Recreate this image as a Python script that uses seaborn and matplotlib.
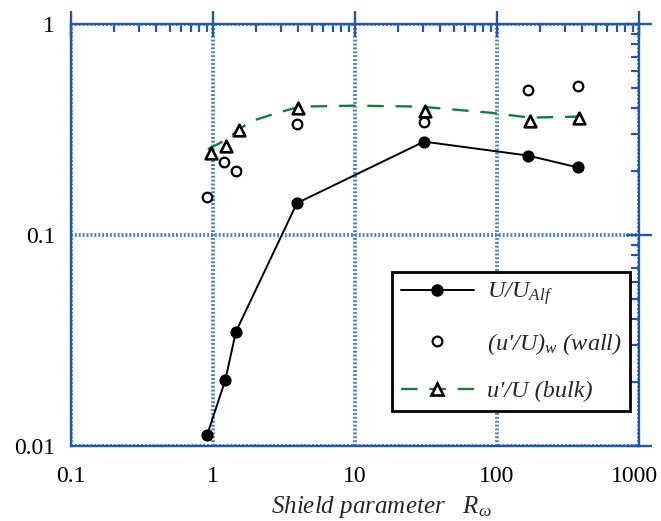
import matplotlib
matplotlib.use("Agg")
import matplotlib.pyplot as plt
import matplotlib.transforms as mtransforms
import seaborn as sns
import numpy as np
from matplotlib.lines import Line2D
from matplotlib.ticker import LogLocator, FixedLocator, NullFormatter, FixedFormatter

# ---- data ----
r_alf = [0.91, 1.22, 1.45, 3.9, 30.6, 165, 372]
u_alf = [0.0113, 0.0205, 0.0348, 0.1416, 0.277, 0.238, 0.209]

r_wall = [0.91, 1.19, 1.45, 3.9, 30.6, 165, 372]
u_wall = [0.151, 0.223, 0.200, 0.337, 0.345, 0.488, 0.510]

r_bulk = [0.97, 1.23, 1.52, 3.95, 31.0, 170, 380]
u_bulk = [0.246, 0.263, 0.316, 0.398, 0.385, 0.348, 0.360]

r_fit = [0.92, 1.18, 1.83, 2.87, 4.1, 10, 28.7, 89, 170, 385]
u_fit = [0.255, 0.278, 0.345, 0.38, 0.406, 0.41, 0.406, 0.38, 0.36, 0.364]

x_ticks = [0.1, 1, 10, 100, 1000]
x_ticklabels = ["0.1", "1", "10", "100", "1000"]
y_ticks = [0.01, 0.1, 1]
y_ticklabels = ["0.01", "0.1", "1"]

labels = ["U/U$_{Alf}$", "(u'/U)$_{w}$ (wall)", "u'/U (bulk)"]
xlabel = "Shield parameter   R$_{\\omega}$"

# ---- style ----
sns.set_style("white")
plt.rcParams["font.family"] = ["Liberation Serif", "DejaVu Serif"]
plt.rcParams["mathtext.fontset"] = "custom"
plt.rcParams["mathtext.rm"] = "Liberation Serif"
plt.rcParams["mathtext.it"] = "Liberation Serif:italic"
plt.rcParams["mathtext.default"] = "it"

blue = "#1f58aa"
grid_blue = "#4f82cc"
green = "#12803c"

fig = plt.figure(figsize=(6.61, 5.21), dpi=100)
ax = fig.add_axes([71 / 661, 1 - 446 / 521, (639 - 71) / 661, (446 - 24) / 521])

sns.lineplot(x=r_fit, y=u_fit, ax=ax, color=green, linewidth=1.7,
             linestyle=(0, (7, 5)), estimator=None, sort=False, zorder=3)
sns.lineplot(x=r_alf, y=u_alf, ax=ax, color="black", linewidth=1.4,
             marker="o", markersize=8, markeredgecolor="black",
             markerfacecolor="black", estimator=None, sort=False, zorder=4)
sns.scatterplot(x=r_wall, y=u_wall, ax=ax, marker="o", s=48,
                facecolor="white", edgecolor="black", linewidth=1.6, zorder=5)
sns.scatterplot(x=r_bulk, y=u_bulk, ax=ax, marker="^", s=70,
                facecolor="white", edgecolor="black", linewidth=1.9, zorder=5)

ax.set_xscale("log")
ax.set_yscale("log")
ax.set_xlim(0.1, 1000)
ax.set_ylim(0.01, 1)

ax.xaxis.set_major_locator(FixedLocator(x_ticks))
ax.xaxis.set_major_formatter(FixedFormatter(x_ticklabels))
ax.yaxis.set_major_locator(FixedLocator(y_ticks))
ax.yaxis.set_major_formatter(FixedFormatter(y_ticklabels))
ax.xaxis.set_minor_locator(LogLocator(base=10, subs=np.arange(2, 10)))
ax.yaxis.set_minor_locator(LogLocator(base=10, subs=np.arange(2, 10)))
ax.xaxis.set_minor_formatter(NullFormatter())
ax.yaxis.set_minor_formatter(NullFormatter())

ax.tick_params(which="major", direction="inout", length=19, width=1.7,
               color=blue, top=True, right=True, labelsize=17,
               labelcolor="black")
ax.tick_params(axis="x", which="major", pad=5)
ax.tick_params(axis="y", which="major", pad=2)
ax.tick_params(which="minor", direction="in", length=6, width=1.6,
               color=blue, top=True, right=True)

for sp in ax.spines.values():
    sp.set_color(blue)
    sp.set_linewidth(1.7)

ax.grid(True, which="major", color=grid_blue, linestyle=(0, (0.5, 0.5)),
        linewidth=2.8)
ax.set_axisbelow(True)
ax.set_xlabel("")
ax.set_ylabel("")

# nudge the last x tick label a little left so it stays inside the figure
last = ax.get_xticklabels()[-1]
last.set_transform(last.get_transform() +
                   mtransforms.ScaledTranslation(-5 / 100, 0, fig.dpi_scale_trans))

handles = [
    Line2D([], [], color="black", linewidth=1.4, marker="o", markersize=8,
           markerfacecolor="black"),
    Line2D([], [], linestyle="none", marker="o", markersize=7,
           markerfacecolor="white", markeredgecolor="black", markeredgewidth=1.6),
    Line2D([], [], color=green, linewidth=1.7, linestyle=(0, (7, 5)),
           marker="^", markersize=8, markerfacecolor="white",
           markeredgecolor="black", markeredgewidth=1.9),
]
leg = ax.legend(handles, labels, loc="lower right",
                bbox_to_anchor=(0.985, 0.083), borderaxespad=0,
                prop={"family": "Liberation Serif", "style": "italic", "size": 17.5},
                handlelength=3.0, handletextpad=0.55, labelspacing=0.97,
                borderpad=0.35, frameon=True, fancybox=False, framealpha=1)
leg.get_frame().set_edgecolor("black")
leg.get_frame().set_linewidth(2)

fig.text(381 / 661, 1 - 513 / 521, xlabel, ha="center", va="baseline",
         fontsize=18, style="italic", family="Liberation Serif")

fig.savefig("out.png", dpi=100)
